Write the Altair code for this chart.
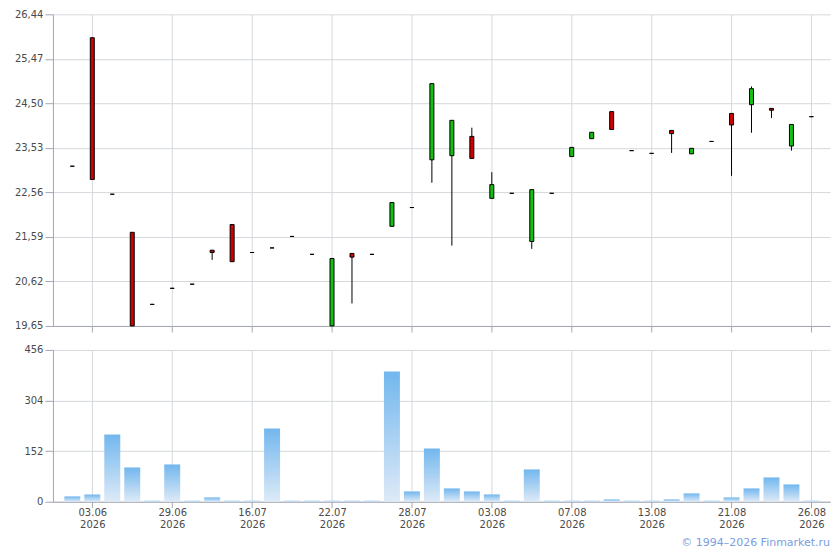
import json
import altair as alt
import pandas as pd

# ---- data ----
idx = list(range(38))
opens = [23.13, 25.93, 22.52, 21.69, 20.12, 20.47, 20.56, 21.30, 21.86, 21.25,
         21.35, 21.60, 21.21, 19.65, 21.23, 21.21, 21.82, 22.23, 23.27, 23.36,
         23.78, 22.43, 22.54, 21.49, 22.54, 23.34, 23.73, 24.32, 23.47, 23.41,
         23.91, 23.40, 23.67, 24.28, 24.47, 24.39, 23.57, 24.21]
highs = [23.13, 25.93, 22.52, 21.69, 20.12, 20.47, 20.56, 21.30, 21.86, 21.25,
         21.35, 21.60, 21.21, 21.12, 21.23, 21.21, 22.34, 22.23, 24.93, 24.13,
         23.97, 23.00, 22.54, 22.62, 22.54, 23.54, 23.87, 24.32, 23.47, 23.41,
         23.91, 23.52, 23.67, 24.28, 24.87, 24.39, 24.04, 24.21]
lows = [23.13, 22.84, 22.52, 19.65, 20.12, 20.47, 20.56, 21.09, 21.05, 21.25,
        21.35, 21.60, 21.21, 19.65, 20.14, 21.21, 21.82, 22.23, 22.77, 21.40,
        23.30, 22.43, 22.54, 21.33, 22.54, 23.34, 23.73, 23.93, 23.47, 23.41,
        23.42, 23.40, 23.67, 22.92, 23.86, 24.18, 23.47, 24.21]
closes = [23.13, 22.84, 22.52, 19.65, 20.12, 20.47, 20.56, 21.25, 21.05, 21.25,
          21.35, 21.60, 21.21, 21.12, 21.15, 21.21, 22.34, 22.23, 24.93, 24.13,
          23.30, 22.73, 22.54, 22.62, 22.54, 23.54, 23.87, 23.93, 23.47, 23.41,
          23.84, 23.52, 23.67, 24.03, 24.82, 24.35, 24.04, 24.21]
volumes = [16, 22, 202, 103, 3, 112, 3, 13, 3, 3,
           220, 3, 3, 3, 3, 3, 391, 31, 160, 40,
           31, 22, 3, 97, 3, 3, 3, 7, 3, 3,
           7, 25, 3, 13, 40, 73, 52, 3]

tick_idx = [1, 5, 9, 13, 17, 21, 25, 29, 33, 37]
tick_dates = ["03.06", "29.06", "16.07", "22.07", "28.07",
              "03.08", "07.08", "13.08", "21.08", "26.08"]
tick_year = "2026"
price_ticks = [19.65, 20.62, 21.59, 22.56, 23.53, 24.50, 25.47, 26.44]
volume_ticks = [0, 152, 304, 456]

df = pd.DataFrame({"idx": idx, "open": opens, "high": highs, "low": lows,
                   "close": closes, "volume": volumes})

FONT = "DejaVu Sans"
GRID = "#d4d8dc"
DOMAIN = "#a3a7b2"
LABEL = "#4a4a4a"
X_DOMAIN = [-0.97, 37.93]

date_expr = ("[" + json.dumps(tick_dates) + "[indexof(" + json.dumps(tick_idx)
             + ", datum.value)], '" + tick_year + "']")

x_scale = alt.Scale(domain=X_DOMAIN, nice=False, zero=False, padding=0)

x_top = alt.X("idx:Q", scale=x_scale,
              axis=alt.Axis(values=tick_idx, labels=False, title=None,
                            tickSize=6, minExtent=6, maxExtent=6))
x_bot = alt.X("idx:Q", scale=x_scale,
              axis=alt.Axis(values=tick_idx, labelExpr=date_expr, title=None,
                            tickSize=6, labelPadding=0, labelLineHeight=12,
                            labelFlush=False, labelOverlap=False))

y_price = alt.Y("low:Q", scale=alt.Scale(domain=[19.65, 26.44], nice=False, zero=False),
                axis=alt.Axis(values=price_ticks, title=None, tickSize=8, labelPadding=2,
                              labelExpr="replace(format(datum.value, '.2f'), '.', ',')",
                              minExtent=40, maxExtent=40, labelFlush=False))

base = alt.Chart(df)
wick = base.mark_rule(color="black", strokeWidth=1).encode(
    x=x_top, y=y_price, y2="high:Q")
body = base.mark_bar(size=4, stroke="black", strokeWidth=1).encode(
    x=x_top,
    y=alt.Y("open:Q", scale=alt.Scale(domain=[19.65, 26.44], nice=False, zero=False)),
    y2="close:Q",
    color=alt.condition("datum.close > datum.open", alt.value("#11c011"), alt.value("#cc0000")),
)
top = alt.layer(wick, body).properties(width=778, height=312)

grad = alt.Gradient(gradient="linear",
                    stops=[alt.GradientStop(color="#72b7ee", offset=0),
                           alt.GradientStop(color="#deeaf7", offset=1)],
                    x1=0, x2=0, y1=0, y2=1)
vol = base.mark_bar(size=16, color=grad).encode(
    x=x_bot,
    y=alt.Y("volume:Q", scale=alt.Scale(domain=[0, 456], nice=False),
            axis=alt.Axis(values=volume_ticks, title=None, tickSize=8, labelPadding=2,
                          minExtent=40, maxExtent=40, labelFlush=False)),
).properties(width=778, height=152)

chart = alt.vconcat(top, vol, spacing=12).properties(
    title=alt.TitleParams("© 1994–2026 Finmarket.ru", orient="bottom", anchor="end",
                          fontSize=11, color="#7b9de0", font=FONT, fontWeight="normal",
                          offset=7),
    padding={"left": 5, "top": 1, "right": 2, "bottom": 2},
).configure_view(strokeWidth=0).configure_axis(
    gridColor=GRID, gridWidth=1, domainColor=DOMAIN, tickColor=DOMAIN,
    labelFont=FONT, labelFontSize=10, labelColor=LABEL,
)

chart.save("out.html", embed_options={"renderer": "svg", "actions": False})
